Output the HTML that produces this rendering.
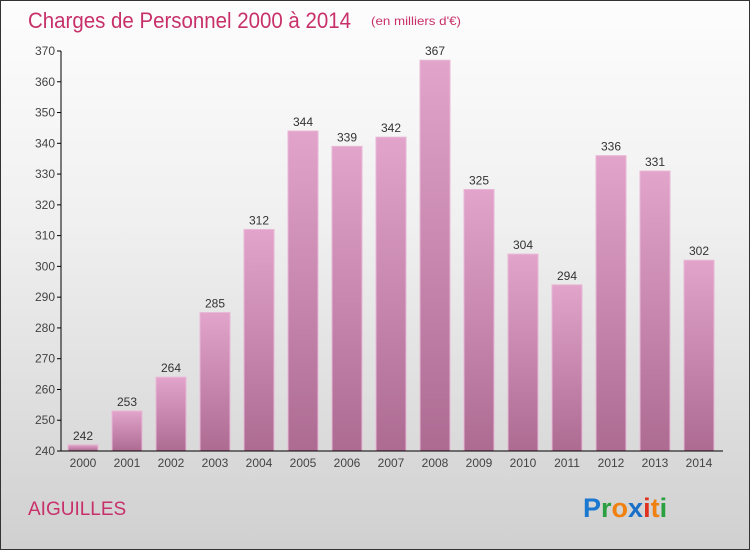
<!DOCTYPE html>
<html><head><meta charset="utf-8"><style>
body{margin:0;width:750px;height:550px;overflow:hidden;font-family:"Liberation Sans",sans-serif}
#wrap{position:relative;width:748px;height:548px;border:1px solid #333;background:linear-gradient(#fdfdfd,#f0f0f0 40%,#d0d0d0)}
svg{position:absolute;left:0;top:0}
</style></head><body>
<div id="wrap">
<svg id="c" width="750" height="550">
<text x="27" y="27" font-size="22" fill="#c8306a" textLength="323" lengthAdjust="spacingAndGlyphs">Charges de Personnel 2000 à 2014</text>
<text x="370" y="24" font-size="12" fill="#c8306a" textLength="90" lengthAdjust="spacingAndGlyphs">(en milliers d'€)</text>
<text x="27" y="514" font-size="19" fill="#c8306a">AIGUILLES</text>
<g font-size="27" font-weight="bold">
<text x="582" y="516"><tspan fill="#1a78d0">P</tspan><tspan fill="#2aa040">r</tspan><tspan fill="#f08010">o</tspan><tspan fill="#1a70c8">x</tspan><tspan fill="#e03020">i</tspan><tspan fill="#f08010">t</tspan><tspan fill="#2aa040">i</tspan></text>
</g>
<defs><linearGradient id="bg" x1="0" y1="0" x2="0" y2="1"><stop offset="0" stop-color="#e2a4cb"/><stop offset="1" stop-color="#ad6b92"/></linearGradient></defs>
<g id="bars"></g><g id="axes"></g>
</svg></div>
<script>
const years=["2000","2001","2002","2003","2004","2005","2006","2007","2008","2009","2010","2011","2012","2013","2014"];
const values=[242,253,264,285,312,344,339,342,367,325,304,294,336,331,302];
const ticks=[240,250,260,270,280,290,300,310,320,330,340,350,360,370];
const NS="http://www.w3.org/2000/svg";
const y=v=>450-(v-240)*400/130;
const x=i=>82+44*i;
function mk(t,a,p){const e=document.createElementNS(NS,t);for(const k in a)e.setAttribute(k,a[k]);p.appendChild(e);return e;}
const bars=document.getElementById('bars'),axes=document.getElementById('axes');
ticks.forEach(t=>{
 const tk=mk('line',{x1:56,x2:60,y1:y(t),y2:y(t),stroke:'#000'},axes);
 
 
 const tx=mk('text',{x:54,y:y(t)+4,'font-size':12,fill:'#444','text-anchor':'end'},axes);
 tx.textContent=t;
 
 
});
values.forEach((v,i)=>{
 const r=mk('rect',{x:x(i)-15,y:y(v),width:30,height:450-y(v),fill:'url(#bg)',stroke:'#e8b8d6','stroke-width':1},bars);
 
 
 const vl=mk('text',{x:x(i),y:y(v)-5,'font-size':12,fill:'#333','text-anchor':'middle'},bars);
 vl.textContent=v;
 
 
 const xl=mk('text',{x:x(i),y:466,'font-size':12,fill:'#444','text-anchor':'middle'},axes);
 xl.textContent=years[i];
 
 
});
const ya=mk('line',{x1:60,x2:60,y1:50,y2:450,stroke:'#000'},axes);


const xa=mk('line',{x1:60,x2:722,y1:450,y2:450,stroke:'#000'},axes);


</script>
</body></html>
